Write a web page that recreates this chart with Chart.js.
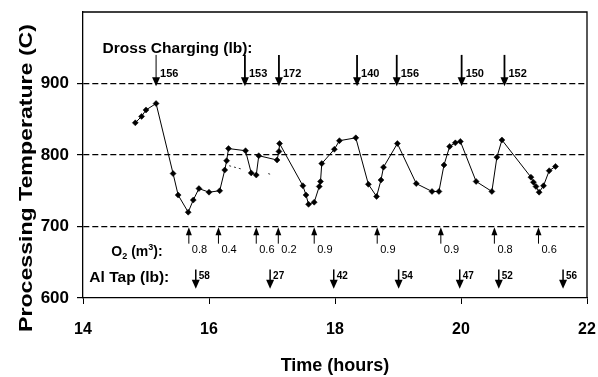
<!DOCTYPE html>
<html>
<head>
<meta charset="utf-8">
<script src="https://cdn.jsdelivr.net/npm/chart.js@4.4.1/dist/chart.umd.min.js"></script>
<style>
  body { margin: 0; background: #fff; }
  #wrap { width: 598px; height: 377px; }
</style>
</head>
<body>
<div id="wrap"><canvas id="tempChart" width="598" height="377"></canvas></div>
<script>
// measured temperature (hours, C)
const times = [14.83, 14.93, 15.00, 15.16, 15.43, 15.51, 15.67, 15.75, 15.84, 16.00,
    16.17, 16.25, 16.28, 16.31, 16.58, 16.67, 16.75, 16.79, 17.08, 17.11,
    17.12, 17.49, 17.54, 17.58, 17.67, 17.75, 17.77, 17.79, 17.99, 18.07,
    18.33, 18.53, 18.66, 18.73, 18.77, 18.99, 19.29, 19.54, 19.65, 19.73,
    19.82, 19.91, 19.99, 20.24, 20.49, 20.57, 20.65, 21.11, 21.15, 21.19,
    21.24, 21.31, 21.40, 21.50];
const temps = [845, 854, 863, 872, 774, 744, 720, 737, 753, 748,
    750, 779, 792, 809, 806, 775, 772, 799, 793, 805,
    816, 757, 744, 731, 734, 756, 763, 788, 808, 820,
    824, 759, 742, 765, 783, 816, 760, 749, 749, 786,
    812, 817, 819, 763, 749, 797, 821, 769, 762, 756,
    748, 757, 778, 784];

// faint dotted pieces (null = gap)
const dotTimes = [16.32, 16.53, 16.7, 16.94, 17.01];
const dotTemps = [785, 780, null, 774, 772];

// events
const drossTimes = [15.16, 16.57, 17.11, 18.35, 18.98, 20.01, 20.69];
const drossLb = ['156', '153', '172', '140', '156', '150', '152'];
const o2Times = [15.68, 16.15, 16.75, 17.10, 17.67, 18.67, 19.68, 20.53, 21.23];
const o2Vol = ['0.8', '0.4', '0.6', '0.2', '0.9', '0.9', '0.9', '0.8', '0.6'];
const tapTimes = [15.79, 16.97, 17.98, 19.01, 19.98, 20.60, 21.62];
const tapLb = ['58', '27', '42', '54', '47', '52', '56'];

const yTicks = [600, 700, 800, 900];
const xTicks = [14, 16, 18, 20, 22];

const FONT = '"Liberation Sans", Arial, sans-serif';

// draw text squeezed/stretched to a given width
function fitText(ctx, text, x, y, w, size) {
    ctx.font = 'bold ' + size + 'px ' + FONT;
    const nat = ctx.measureText(text).width;
    ctx.save();
    ctx.translate(x, y);
    ctx.scale(w / nat, 1);
    ctx.fillText(text, 0, 0);
    ctx.restore();
}

function arrow(ctx, x, yTail, yTip, lw, hw, hl) {
    const dir = yTip > yTail ? 1 : -1;
    ctx.lineWidth = lw;
    ctx.beginPath();
    ctx.moveTo(x, yTail);
    ctx.lineTo(x, yTip - dir * hl * 0.6);
    ctx.stroke();
    ctx.beginPath();
    ctx.moveTo(x, yTip);
    ctx.lineTo(x - hw / 2, yTip - dir * hl);
    ctx.lineTo(x + hw / 2, yTip - dir * hl);
    ctx.closePath();
    ctx.fill();
}

const annotations = {
    id: 'annotations',
    afterDatasetsDraw(chart) {
        const ctx = chart.ctx;
        const xs = chart.scales.x, ys = chart.scales.y;
        const a = chart.chartArea;
        ctx.save();
        ctx.strokeStyle = '#000';
        ctx.fillStyle = '#000';

        // frame
        ctx.lineWidth = 1.3;
        ctx.beginPath();
        ctx.moveTo(a.left, a.top);
        ctx.lineTo(a.right, a.top);
        ctx.lineTo(a.right, a.bottom);
        ctx.stroke();

        ctx.textBaseline = 'middle';
        ctx.textAlign = 'left';

        // dross charging
        fitText(ctx, 'Dross Charging (lb):', xs.getPixelForValue(14.31), ys.getPixelForValue(948), 150, 14);
        ctx.font = 'bold 11px ' + FONT;
        drossTimes.forEach((t, i) => {
            const x = xs.getPixelForValue(t);
            arrow(ctx, x, ys.getPixelForValue(940), ys.getPixelForValue(896), i === 0 ? 1 : 1.8, 8, 9);
            ctx.fillText(drossLb[i], x + 4, ys.getPixelForValue(914));
        });

        // O2
        const oy = ys.getPixelForValue(664);
        const ox = xs.getPixelForValue(14.45);
        ctx.font = 'bold 14px ' + FONT;
        ctx.fillText('O', ox, oy);
        let cx = ox + ctx.measureText('O').width;
        ctx.font = 'bold 9px ' + FONT;
        ctx.fillText('2', cx, oy + 4);
        cx += ctx.measureText('2').width;
        ctx.font = 'bold 14px ' + FONT;
        ctx.fillText(' (m', cx, oy);
        cx += ctx.measureText(' (m').width;
        ctx.font = 'bold 9px ' + FONT;
        ctx.fillText('3', cx, oy - 5);
        cx += ctx.measureText('3').width;
        ctx.font = 'bold 14px ' + FONT;
        ctx.fillText('):', cx, oy);

        ctx.font = '11px ' + FONT;
        o2Times.forEach((t, i) => {
            const x = xs.getPixelForValue(t);
            arrow(ctx, x, ys.getPixelForValue(676), ys.getPixelForValue(699), 1, 6, 8);
            ctx.fillText(o2Vol[i], x + 3, ys.getPixelForValue(667));
        });

        // Al tap
        fitText(ctx, 'Al Tap (lb):', xs.getPixelForValue(14.1), ys.getPixelForValue(628), 80, 14);
        ctx.font = 'bold 10px ' + FONT;
        tapTimes.forEach((t, i) => {
            const x = xs.getPixelForValue(t);
            arrow(ctx, x, ys.getPixelForValue(640), ys.getPixelForValue(613), 1.5, 8, 9);
            ctx.fillText(tapLb[i], x + 3, ys.getPixelForValue(630));
        });

        // y axis title
        ctx.save();
        ctx.translate(26.5, 178);
        ctx.rotate(-Math.PI / 2);
        ctx.textAlign = 'left';
        ctx.font = 'bold 19px ' + FONT;
        const ttl = 'Processing Temperature (C)';
        const w = ctx.measureText(ttl).width;
        ctx.scale(308 / w, 1);
        ctx.fillText(ttl, -w / 2, 0);
        ctx.restore();

        ctx.restore();
    }
};

new Chart(document.getElementById('tempChart'), {
    type: 'scatter',
    data: {
        datasets: [{
            data: times.map((t, i) => ({ x: t, y: temps[i] })),
            showLine: true,
            borderColor: '#000',
            borderWidth: 1,
            pointStyle: 'rectRot',
            pointRadius: 3,
            pointBackgroundColor: '#000',
            pointBorderColor: '#000',
            pointBorderWidth: 0.5
        }, {
            data: dotTimes.map((t, i) => ({ x: t, y: dotTemps[i] })),
            showLine: true,
            spanGaps: false,
            borderColor: '#333',
            borderWidth: 1,
            borderDash: [2, 3],
            pointRadius: 0
        }]
    },
    options: {
        responsive: false,
        animation: false,
        layout: { padding: { top: 12, right: 11, left: 0, bottom: 0 } },
        plugins: { legend: { display: false }, tooltip: { enabled: false } },
        scales: {
            x: {
                type: 'linear',
                min: 14,
                max: 22,
                afterFit: s => { s.height = 79; s.paddingLeft = 0; s.paddingRight = 0; },
                afterBuildTicks: s => { s.ticks = xTicks.map(v => ({ value: v })); },
                ticks: { color: '#000', padding: 16, font: { family: FONT, size: 16, weight: 'bold' } },
                grid: { drawOnChartArea: false, tickLength: 6, color: '#000', lineWidth: 1 },
                border: { color: '#000', width: 1.3 },
                title: { display: true, text: 'Time (hours)', color: '#000', padding: 0, font: { family: FONT, size: 18, weight: 'bold' } }
            },
            y: {
                min: 600,
                max: 1000,
                afterFit: s => { s.width = 83; s.paddingTop = 0; s.paddingBottom = 0; },
                afterBuildTicks: s => { s.ticks = yTicks.map(v => ({ value: v })); },
                ticks: { color: '#000', padding: 8, font: { family: FONT, size: 17, weight: 'bold' } },
                grid: {
                    color: c => (c.tick && c.tick.value > 600) ? '#000' : 'rgba(0,0,0,0)',
                    tickColor: '#000',
                    tickLength: 6,
                    lineWidth: 1.2,
                    tickBorderDash: []
                },
                border: { color: '#000', width: 1.3, dash: [6, 3] }
            }
        }
    },
    plugins: [annotations]
});
</script>
</body>
</html>
